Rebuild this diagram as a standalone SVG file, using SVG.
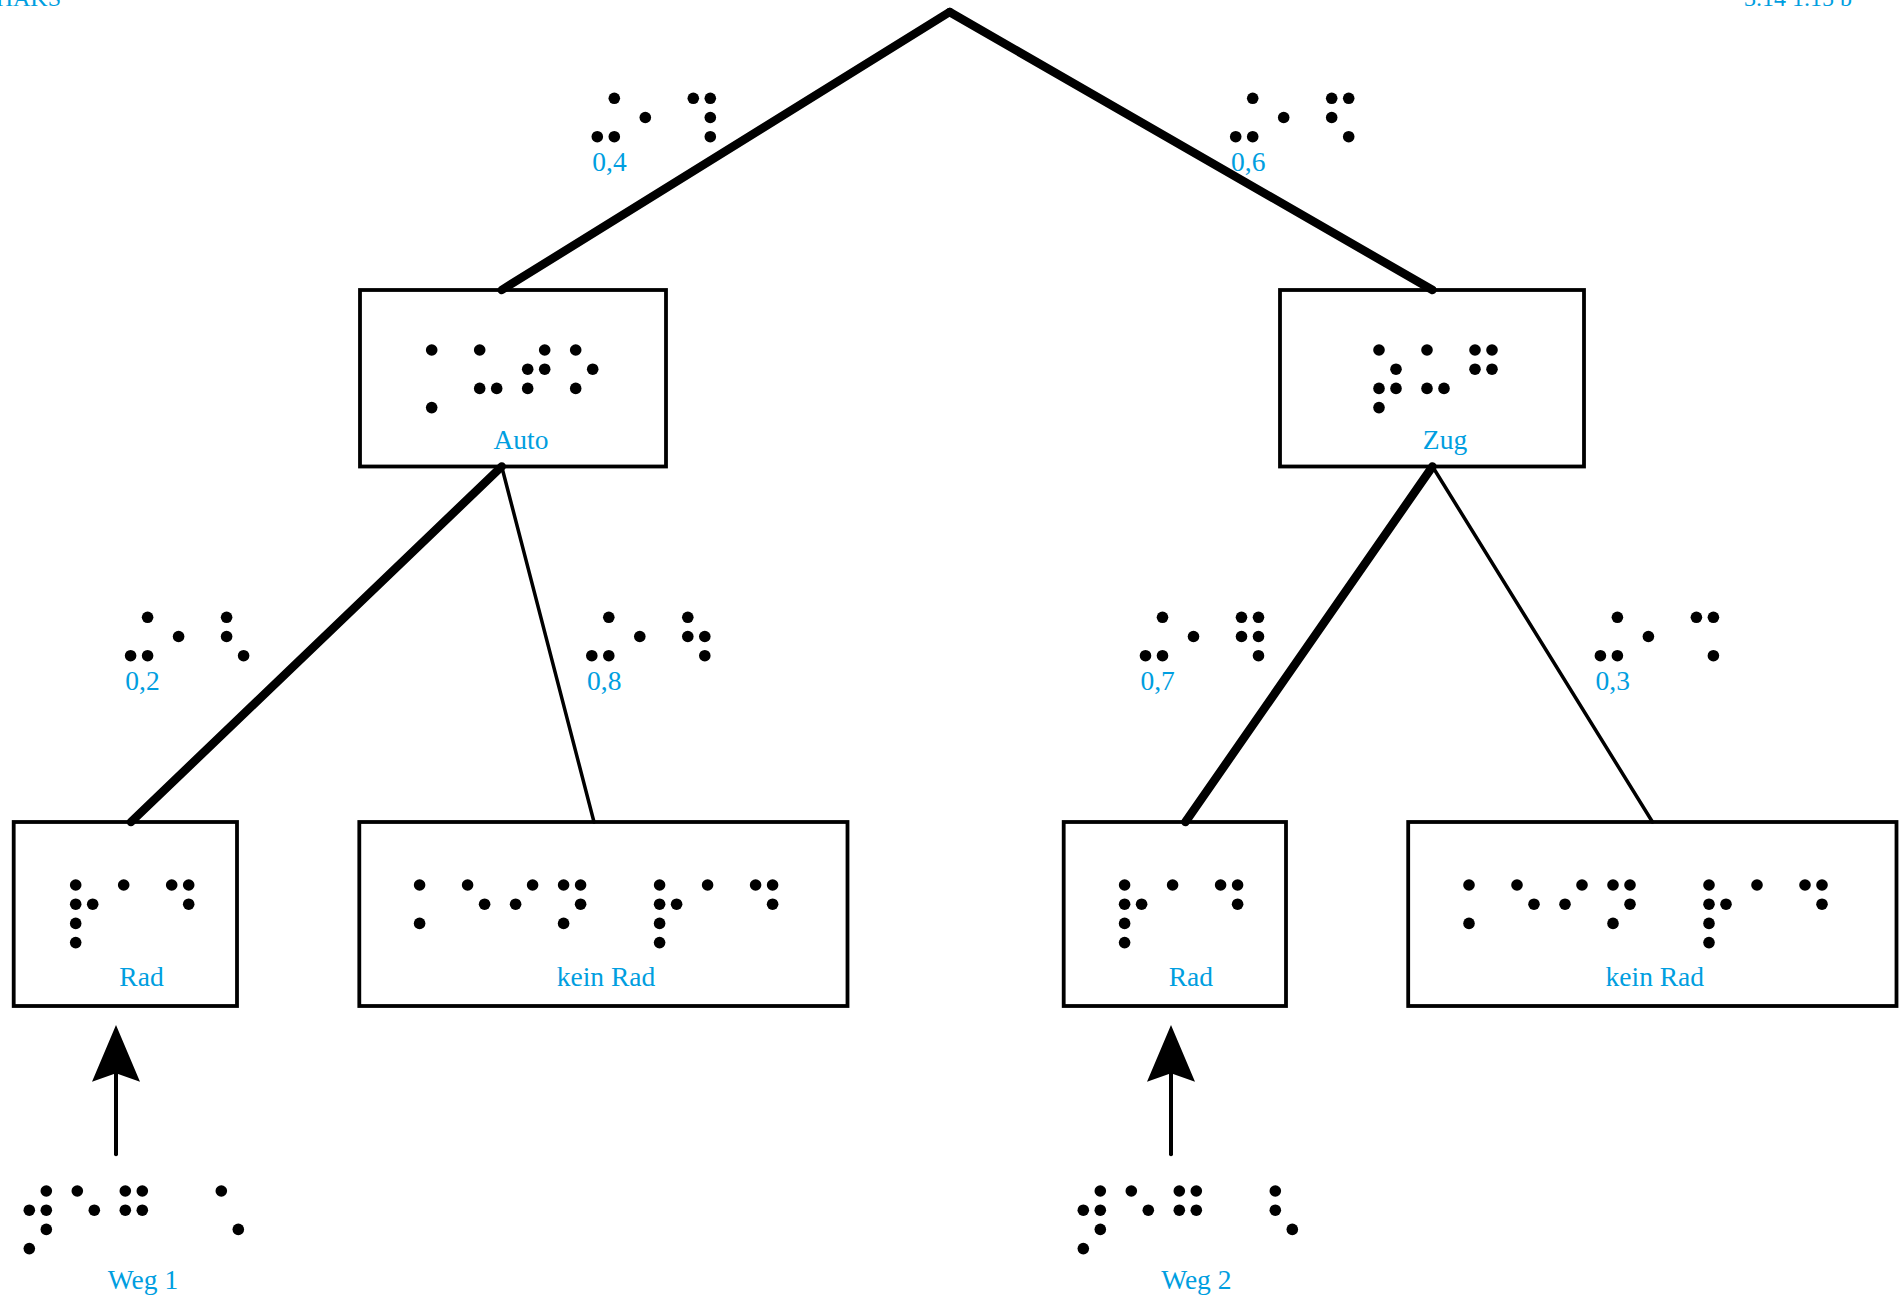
<svg xmlns="http://www.w3.org/2000/svg" width="1904" height="1300" viewBox="0 0 1904 1300">
  <style>
    .box { fill: none; stroke: #000; stroke-width: 3.8; }
    .edge { fill: none; stroke: #000; stroke-linecap: round; }
    .thick { stroke-width: 8.5; }
    .thin { stroke-width: 3.5; }
    .arrow { fill: none; stroke: #000; stroke-width: 4; stroke-linecap: round; marker-end: url(#head); }
    .lbl { font-family: "Liberation Serif", "Times New Roman", serif; font-size: 27.5px; fill: #009EE0; }
    .hdr { font-size: 24px; }
    .mid { text-anchor: middle; }
    .end { text-anchor: end; }
    .braille { fill: #000; }
  </style>
  <defs>
    <!-- 8-dot braille cell: dots 1-3,7 in the left column, 4-6,8 in the right -->
    <circle id="d1" cx="0" cy="0" r="5.8"/>
    <circle id="d2" cx="0" cy="19.2" r="5.8"/>
    <circle id="d3" cx="0" cy="38.4" r="5.8"/>
    <circle id="d4" cx="17" cy="0" r="5.8"/>
    <circle id="d5" cx="17" cy="19.2" r="5.8"/>
    <circle id="d6" cx="17" cy="38.4" r="5.8"/>
    <circle id="d7" cx="0" cy="57.6" r="5.8"/>
    <circle id="d8" cx="17" cy="57.6" r="5.8"/>
    <marker id="head" markerUnits="userSpaceOnUse" viewBox="-10 -25 60 50" markerWidth="60" markerHeight="50" refX="0" refY="0" orient="auto">
      <path d="M48.3 0 L-8.4 24 L0 0 L-8.4 -24 Z" fill="#000"/>
    </marker>
  </defs>

  <!-- page header -->
  <text class="lbl hdr end" x="61" y="6">HAKS</text>
  <text class="lbl hdr end" x="1852" y="6">3.14 1.15 b</text>

  <!-- tree branches and path arrows -->
  <g id="connectors">
    <line class="edge thick" x1="949.6" y1="12" x2="501.7" y2="290"/>
    <line class="edge thick" x1="949.6" y1="12" x2="1432.5" y2="290"/>
    <line class="edge thick" x1="501.7" y1="466.5" x2="131" y2="822"/>
    <line class="edge thin" x1="501.7" y1="466.5" x2="594" y2="822"/>
    <line class="edge thick" x1="1432.5" y1="466.5" x2="1185.4" y2="822"/>
    <line class="edge thin" x1="1432.5" y1="466.5" x2="1652.5" y2="822"/>
    <path class="arrow" d="M116 1154.3 V1073.3"/>
    <path class="arrow" d="M1171 1154.3 V1073.3"/>
  </g>

  <!-- branch probabilities -->
  <g id="p-auto">
    <g class="braille" transform="translate(597.3 98.3)">
      <g><use href="#d3"/><use href="#d4"/><use href="#d6"/></g>
      <g transform="translate(48 0)"><use href="#d2"/></g>
      <g transform="translate(96 0)"><use href="#d1"/><use href="#d4"/><use href="#d5"/><use href="#d6"/></g>
    </g>
    <text class="lbl" x="592.3" y="170.5">0,4</text>
  </g>
  <g id="p-zug">
    <g class="braille" transform="translate(1235.7 98.3)">
      <g><use href="#d3"/><use href="#d4"/><use href="#d6"/></g>
      <g transform="translate(48 0)"><use href="#d2"/></g>
      <g transform="translate(96 0)"><use href="#d1"/><use href="#d2"/><use href="#d4"/><use href="#d6"/></g>
    </g>
    <text class="lbl" x="1231" y="170.5">0,6</text>
  </g>
  <g id="p-auto-rad">
    <g class="braille" transform="translate(130.6 617.3)">
      <g><use href="#d3"/><use href="#d4"/><use href="#d6"/></g>
      <g transform="translate(48 0)"><use href="#d2"/></g>
      <g transform="translate(96 0)"><use href="#d1"/><use href="#d2"/><use href="#d6"/></g>
    </g>
    <text class="lbl" x="125.3" y="690">0,2</text>
  </g>
  <g id="p-auto-keinrad">
    <g class="braille" transform="translate(591.8 617.3)">
      <g><use href="#d3"/><use href="#d4"/><use href="#d6"/></g>
      <g transform="translate(48 0)"><use href="#d2"/></g>
      <g transform="translate(96 0)"><use href="#d1"/><use href="#d2"/><use href="#d5"/><use href="#d6"/></g>
    </g>
    <text class="lbl" x="587" y="690">0,8</text>
  </g>
  <g id="p-zug-rad">
    <g class="braille" transform="translate(1145.5 617.3)">
      <g><use href="#d3"/><use href="#d4"/><use href="#d6"/></g>
      <g transform="translate(48 0)"><use href="#d2"/></g>
      <g transform="translate(96 0)"><use href="#d1"/><use href="#d2"/><use href="#d4"/><use href="#d5"/><use href="#d6"/></g>
    </g>
    <text class="lbl" x="1140.4" y="690">0,7</text>
  </g>
  <g id="p-zug-keinrad">
    <g class="braille" transform="translate(1600.4 617.3)">
      <g><use href="#d3"/><use href="#d4"/><use href="#d6"/></g>
      <g transform="translate(48 0)"><use href="#d2"/></g>
      <g transform="translate(96 0)"><use href="#d1"/><use href="#d4"/><use href="#d6"/></g>
    </g>
    <text class="lbl" x="1595.5" y="690">0,3</text>
  </g>

  <!-- first stage -->
  <g id="auto">
    <rect class="box" x="360" y="290" width="306" height="176.5"/>
    <g class="braille" transform="translate(431.7 350)">
      <g><use href="#d1"/><use href="#d7"/></g>
      <g transform="translate(48 0)"><use href="#d1"/><use href="#d3"/><use href="#d6"/></g>
      <g transform="translate(96 0)"><use href="#d2"/><use href="#d3"/><use href="#d4"/><use href="#d5"/></g>
      <g transform="translate(144 0)"><use href="#d1"/><use href="#d3"/><use href="#d5"/></g>
    </g>
    <text class="lbl mid" x="521" y="448.5">Auto</text>
  </g>
  <g id="zug">
    <rect class="box" x="1280" y="290" width="304" height="176.5"/>
    <g class="braille" transform="translate(1379 350)">
      <g><use href="#d1"/><use href="#d3"/><use href="#d5"/><use href="#d6"/><use href="#d7"/></g>
      <g transform="translate(48 0)"><use href="#d1"/><use href="#d3"/><use href="#d6"/></g>
      <g transform="translate(96 0)"><use href="#d1"/><use href="#d2"/><use href="#d4"/><use href="#d5"/></g>
    </g>
    <text class="lbl mid" x="1445" y="448.5">Zug</text>
  </g>

  <!-- second stage -->
  <g id="rad-1">
    <rect class="box" x="13.7" y="822" width="223.3" height="184"/>
    <g class="braille" transform="translate(75.7 885)">
      <g><use href="#d1"/><use href="#d2"/><use href="#d3"/><use href="#d5"/><use href="#d7"/></g>
      <g transform="translate(48 0)"><use href="#d1"/></g>
      <g transform="translate(96 0)"><use href="#d1"/><use href="#d4"/><use href="#d5"/></g>
    </g>
    <text class="lbl mid" x="141.5" y="985.5">Rad</text>
  </g>
  <g id="kein-rad-1">
    <rect class="box" x="359.3" y="822" width="488.2" height="184"/>
    <g class="braille" transform="translate(419.6 885)">
      <g><use href="#d1"/><use href="#d3"/></g>
      <g transform="translate(48 0)"><use href="#d1"/><use href="#d5"/></g>
      <g transform="translate(96 0)"><use href="#d2"/><use href="#d4"/></g>
      <g transform="translate(144 0)"><use href="#d1"/><use href="#d3"/><use href="#d4"/><use href="#d5"/></g>
      <g transform="translate(240 0)"><use href="#d1"/><use href="#d2"/><use href="#d3"/><use href="#d5"/><use href="#d7"/></g>
      <g transform="translate(288 0)"><use href="#d1"/></g>
      <g transform="translate(336 0)"><use href="#d1"/><use href="#d4"/><use href="#d5"/></g>
    </g>
    <text class="lbl mid" x="606" y="985.5">kein Rad</text>
  </g>
  <g id="rad-2">
    <rect class="box" x="1063.7" y="822" width="222.3" height="184"/>
    <g class="braille" transform="translate(1124.6 885)">
      <g><use href="#d1"/><use href="#d2"/><use href="#d3"/><use href="#d5"/><use href="#d7"/></g>
      <g transform="translate(48 0)"><use href="#d1"/></g>
      <g transform="translate(96 0)"><use href="#d1"/><use href="#d4"/><use href="#d5"/></g>
    </g>
    <text class="lbl mid" x="1190.8" y="985.5">Rad</text>
  </g>
  <g id="kein-rad-2">
    <rect class="box" x="1408.2" y="822" width="488.3" height="184"/>
    <g class="braille" transform="translate(1469 885)">
      <g><use href="#d1"/><use href="#d3"/></g>
      <g transform="translate(48 0)"><use href="#d1"/><use href="#d5"/></g>
      <g transform="translate(96 0)"><use href="#d2"/><use href="#d4"/></g>
      <g transform="translate(144 0)"><use href="#d1"/><use href="#d3"/><use href="#d4"/><use href="#d5"/></g>
      <g transform="translate(240 0)"><use href="#d1"/><use href="#d2"/><use href="#d3"/><use href="#d5"/><use href="#d7"/></g>
      <g transform="translate(288 0)"><use href="#d1"/></g>
      <g transform="translate(336 0)"><use href="#d1"/><use href="#d4"/><use href="#d5"/></g>
    </g>
    <text class="lbl mid" x="1654.8" y="985.5">kein Rad</text>
  </g>

  <!-- path markers under the tree -->
  <g id="weg-1">
    <g class="braille" transform="translate(29.3 1191)">
      <g><use href="#d2"/><use href="#d4"/><use href="#d5"/><use href="#d6"/><use href="#d7"/></g>
      <g transform="translate(48 0)"><use href="#d1"/><use href="#d5"/></g>
      <g transform="translate(96 0)"><use href="#d1"/><use href="#d2"/><use href="#d4"/><use href="#d5"/></g>
      <g transform="translate(192 0)"><use href="#d1"/><use href="#d6"/></g>
    </g>
    <text class="lbl mid" x="143" y="1289">Weg 1</text>
  </g>
  <g id="weg-2">
    <g class="braille" transform="translate(1083.3 1191)">
      <g><use href="#d2"/><use href="#d4"/><use href="#d5"/><use href="#d6"/><use href="#d7"/></g>
      <g transform="translate(48 0)"><use href="#d1"/><use href="#d5"/></g>
      <g transform="translate(96 0)"><use href="#d1"/><use href="#d2"/><use href="#d4"/><use href="#d5"/></g>
      <g transform="translate(192 0)"><use href="#d1"/><use href="#d2"/><use href="#d6"/></g>
    </g>
    <text class="lbl mid" x="1196.3" y="1289">Weg 2</text>
  </g>
</svg>
